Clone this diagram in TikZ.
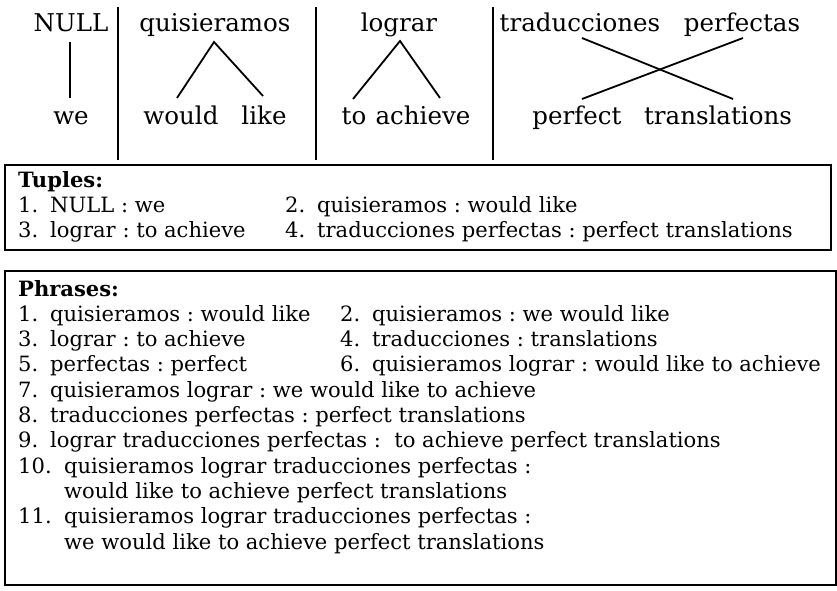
\documentclass[tikz,border=0pt]{standalone}
\usepackage{fontspec}
\setmainfont{DejaVu Serif}
\frenchspacing
\begin{document}
\begin{tikzpicture}[x=1bp,y=-1bp,
  word/.style={inner sep=0pt,anchor=base,font=\fontsize{24.6}{29}\selectfont},
  item/.style={inner sep=0pt,anchor=base west,font=\fontsize{21.15}{25}\selectfont},
  link/.style={line width=1.8bp},
  sep/.style={line width=1.8bp},
  box/.style={draw,line width=1.8bp}]
\useasboundingbox (0,0) rectangle (837,591);
\newcommand{\nb}[2]{\makebox[#1bp][l]{#2}}
% top words
\node[word] (null) at (71,32) {NULL};
\node[word] (we) at (71,125) {we};
\node[word] (quis) at (215,32) {quisieramos};
\node[word] (would) at (181,125) {would};
\node[word] (like) at (264,125) {like};
\node[word] (lograr) at (399,32) {lograr};
\node[word] (to) at (354,125) {to};
\node[word] (achieve) at (423,125) {achieve};
\node[word] (trad) at (580,32) {traducciones};
\node[word] (perfectas) at (742,32) {perfectas};
\node[word] (perfect) at (577,125) {perfect};
\node[word] (transl) at (718,125) {translations};
% link end points
\coordinate (n1) at (70,42); \coordinate (w1) at (70,98);
\coordinate (q1) at (214,42); \coordinate (wo1) at (177,98); \coordinate (li1) at (263,96);
\coordinate (l1) at (400,41); \coordinate (to1) at (353,99); \coordinate (ac1) at (440,98);
\coordinate (tr1) at (582,38); \coordinate (tl1) at (733,99);
\coordinate (pa1) at (743,38); \coordinate (pf1) at (582,99);
\draw[link] (n1) -- (w1);
\draw[link] (wo1) -- (q1) -- (li1);
\draw[link] (to1) -- (l1) -- (ac1);
\draw[link] (tr1) -- (tl1);
\draw[link] (pa1) -- (pf1);
% separators
\coordinate (s1t) at (118,7); \coordinate (s1b) at (118,160);
\coordinate (s2t) at (316,7); \coordinate (s2b) at (316,160);
\coordinate (s3t) at (493,7); \coordinate (s3b) at (493,160);
\draw[sep] (s1t) -- (s1b);
\draw[sep] (s2t) -- (s2b);
\draw[sep] (s3t) -- (s3b);
% tuples box
\draw[box] (5,165) rectangle (831,250);
\node[item] (th) at (18,188) {\textbf{Tuples:}};
\node[item] (t1) at (18,213) {\nb{32}{1.}NULL : we};
\node[item] (t2) at (285,213) {\nb{32}{2.}quisieramos : would like};
\node[item] (t3) at (18,238) {\nb{32}{3.}lograr : to achieve};
\node[item] (t4) at (285,238) {\nb{32}{4.}traducciones perfectas : perfect translations};
% phrases box
\draw[box] (5,271) rectangle (836,585);
\node[item] (ph) at (18,296) {\textbf{Phrases:}};
\node[item] (p1) at (18,321.3) {\nb{32}{1.}quisieramos : would like};
\node[item] (p2) at (340,321.3) {\nb{32}{2.}quisieramos : we would like};
\node[item] (p3) at (18,346.6) {\nb{32}{3.}lograr : to achieve};
\node[item] (p4) at (340,346.6) {\nb{32}{4.}traducciones : translations};
\node[item] (p5) at (18,371.9) {\nb{32}{5.}perfectas : perfect};
\node[item] (p6) at (340,371.9) {\nb{32}{6.}quisieramos lograr : would like to achieve};
\node[item] (p7) at (18,397.2) {\nb{32}{7.}quisieramos lograr : we would like to achieve};
\node[item] (p8) at (18,422.5) {\nb{32}{8.}traducciones perfectas : perfect translations};
\node[item] (p9) at (18,447.8) {\nb{32}{9.}lograr traducciones perfectas : \ to achieve perfect translations};
\node[item] (p10) at (18,473.1) {\nb{46}{10.}quisieramos lograr traducciones perfectas :};
\node[item] (p10b) at (64,498.4) {would like to achieve perfect translations};
\node[item] (p11) at (18,523.7) {\nb{46}{11.}quisieramos lograr traducciones perfectas :};
\node[item] (p11b) at (64,549) {we would like to achieve perfect translations};
\end{tikzpicture}
\end{document}
